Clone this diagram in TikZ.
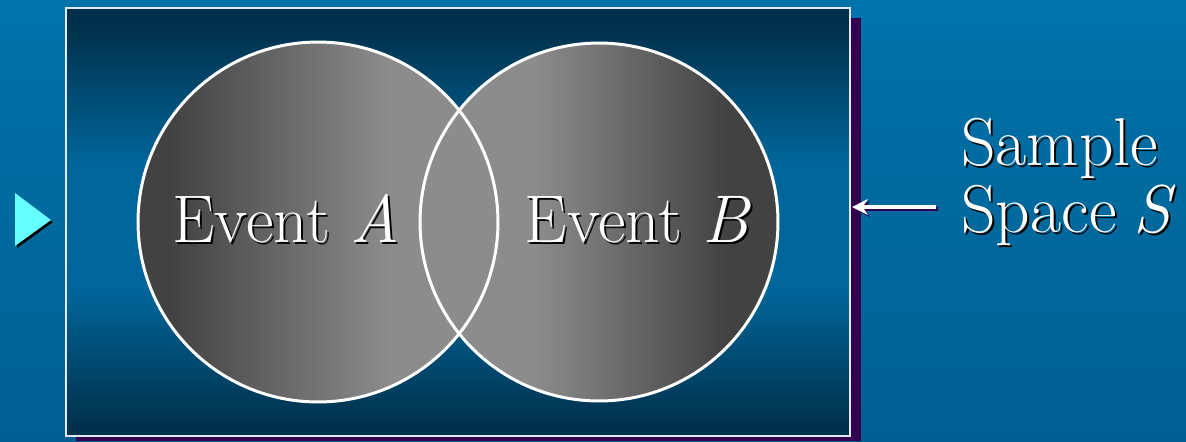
\documentclass[tikz,border=0pt]{standalone}
\usetikzlibrary{arrows.meta}
\definecolor{bgtop}{HTML}{0072AA}
\definecolor{bgbot}{HTML}{005F90}
\definecolor{sbox}{HTML}{33004F}
\definecolor{indark}{HTML}{00304A}
\definecolor{inmid}{HTML}{00659A}
\definecolor{gdark}{HTML}{424242}
\definecolor{glight}{HTML}{8C8C8C}
\definecolor{cyantri}{HTML}{66FFFF}
\definecolor{frame}{HTML}{E4E8F0}
\pgfdeclarehorizontalshading{leftcirc}{100bp}{color(0bp)=(gdark); color(29.5bp)=(gdark); color(60bp)=(glight); color(100bp)=(glight)}
\pgfdeclarehorizontalshading{rightcirc}{100bp}{color(0bp)=(glight); color(41bp)=(glight); color(68bp)=(gdark); color(100bp)=(gdark)}
\pgfdeclareverticalshading{boxsh}{100bp}{color(0bp)=(indark); color(26bp)=(indark); color(42bp)=(inmid); color(57bp)=(inmid); color(73bp)=(indark); color(100bp)=(indark)}
\tikzset{
  lbl/.style={text=white, inner sep=0pt},
  lblsh/.style={text=black, inner sep=0pt},
  evfont/.style={font=\fontsize{38.4}{42}\selectfont},
  smfont/.style={font=\fontsize{38.5}{42}\selectfont},
  ring/.style={draw=white, line width=1.7pt}
}
\begin{document}
\begin{tikzpicture}[x=0.02cm,y=-0.02cm]
\useasboundingbox (0,0) rectangle (1186,441);
\shade[top color=bgtop,bottom color=bgbot] (0,0) rectangle (1186,441);
% box shadow
\fill[sbox] (76,18) rectangle (861,441);
% sample space box
\node (S) [minimum width=15.68cm, minimum height=8.56cm, inner sep=0pt,
  shading=boxsh, draw=frame, line width=1.1pt] at (458,222) {};
% circles
\shade[shading=leftcirc] (318,222) circle (3.6cm);
\shade[shading=rightcirc] (599,222) circle (3.58cm);
\draw[ring] (318,222) circle (3.6cm);
\draw[ring] (599,222) circle (3.58cm);
% labels
\node (Ash) [lblsh, evfont, anchor=base] at (288,244) {Event \textit{A}};
\node (A) [lbl, evfont, anchor=base] at (286,242) {Event \textit{A}};
\node (Bsh) [lblsh, evfont, anchor=base] at (640,244) {Event \textit{B}};
\node (B) [lbl, evfont, anchor=base] at (638,242) {Event \textit{B}};
\node (L1sh) [lblsh, smfont, anchor=base west] at (963,167) {Sample};
\node (L1) [lbl, smfont, anchor=base west] at (961,165) {Sample};
\node (L2sh) [lblsh, smfont, anchor=base west] at (963,234) {Space\hspace{0.25em}\textit{S}};
\node (L2) [lbl, smfont, anchor=base west] at (961,232) {Space\hspace{0.25em}\textit{S}};
% arrow
\coordinate (at1) at (938,209);
\coordinate (at2) at (854,209);
\coordinate (a1) at (936,207);
\coordinate (a2) at (852,207);
\draw[sbox, line width=2pt, -{Stealth[length=9pt,width=9pt,inset=3pt]}] (at1) -- (at2);
\draw[white, line width=2pt, -{Stealth[length=9pt,width=9pt,inset=3pt]}] (a1) -- (a2);
% bullet triangle
\fill[black] (17,196) -- (53,222) -- (17,248) -- cycle;
\fill[cyantri] (15,193) -- (51,220) -- (15,246) -- cycle;
\end{tikzpicture}
\end{document}
